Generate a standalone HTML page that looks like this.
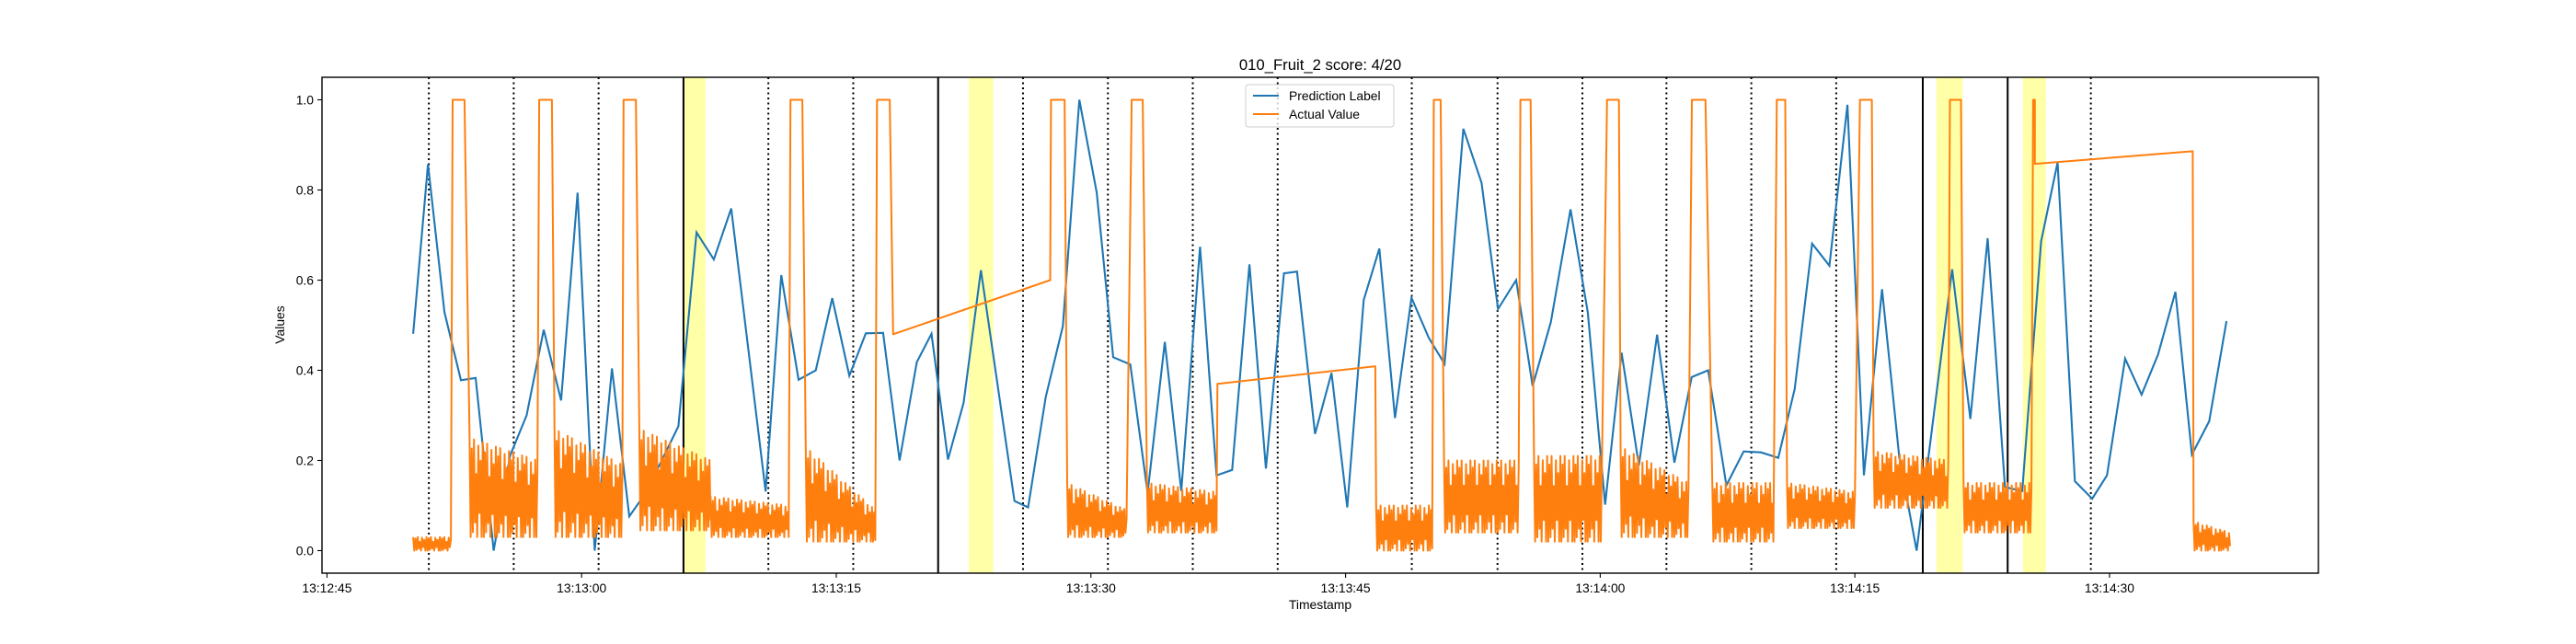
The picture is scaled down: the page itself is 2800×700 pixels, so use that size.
<!DOCTYPE html>
<html><head><meta charset="utf-8"><style>
html,body{margin:0;padding:0;background:#fff;}
svg{display:block;font-family:"Liberation Sans","DejaVu Sans",sans-serif;}
</style></head><body>
<svg id="chart" width="2800" height="700" xmlns="http://www.w3.org/2000/svg">
<rect x="0" y="0" width="2800" height="700" fill="#fff"/>
<g id="spans"></g>
<g id="vlines"></g>
<g id="series"></g>
<rect x="350" y="84" width="2170" height="539" fill="none" stroke="#000" stroke-width="1.4"/>
<g id="axes"></g>
<text x="1435" y="76" font-size="16.7" text-anchor="middle">010_Fruit_2 score: 4/20</text>
<text x="1435" y="662" font-size="13.9" text-anchor="middle">Timestamp</text>
<text transform="translate(309,353) rotate(-90)" font-size="13.9" text-anchor="middle">Values</text>
<g>
<rect x="1354" y="92" width="161" height="46" rx="3" fill="#fff" fill-opacity="0.8" stroke="#ccc" stroke-width="1"/>
<line x1="1362" y1="104" x2="1390" y2="104" stroke="#1f77b4" stroke-width="2.1"/>
<text x="1401" y="109" font-size="13.9">Prediction Label</text>
<line x1="1362" y1="124" x2="1390" y2="124" stroke="#ff7f0e" stroke-width="2.1"/>
<text x="1401" y="129" font-size="13.9">Actual Value</text>
</g>
</svg>
<script>
// seconds since 13:12:45
const xTickSeconds = [0, 15, 30, 45, 60, 75, 90, 105];
const xTickLabels = ["13:12:45","13:13:00","13:13:15","13:13:30","13:13:45","13:14:00","13:14:15","13:14:30"];
const yTickValues = [0.0, 0.2, 0.4, 0.6, 0.8, 1.0];
const yTickLabels = ["0.0","0.2","0.4","0.6","0.8","1.0"];
const dottedLineTimes = [6.0,11.0,16.0,26.0,31.0,41.0,46.0,51.0,56.0,63.9,68.95,73.95,78.9,83.9,88.9,103.9];
const solidLineTimes = [21.0,36.0,94.0,99.0];
const spanStarts = [21.0,37.8,94.8,99.9];
const spanEnds = [22.3,39.25,96.35,101.25];
const predTimes = [5.08,5.95,6.92,7.89,8.76,9.82,10.79,11.76,12.77,13.79,14.76,15.77,16.79,17.81,18.77,19.74,20.7,21.77,22.79,23.81,25.84,26.76,27.78,28.79,29.76,30.77,31.74,32.76,33.73,34.74,35.61,36.58,37.5,38.52,40.5,41.3,42.34,43.35,44.32,45.34,46.31,47.32,48.34,49.35,50.32,51.43,52.4,53.32,54.34,55.31,56.37,57.14,58.2,59.17,60.1,61.07,61.99,62.91,63.88,64.9,65.83,66.94,68.01,68.98,70.05,71.02,72.09,73.25,74.27,75.29,76.26,77.28,78.35,79.37,80.39,81.36,82.43,83.45,84.47,85.49,86.46,87.48,88.5,89.56,90.53,91.6,92.62,93.64,95.73,96.8,97.82,98.84,99.86,100.97,101.94,102.96,103.98,104.85,105.92,106.89,107.86,108.88,109.85,110.87,111.89];
const predValues = [0.481,0.857,0.529,0.378,0.383,0.0,0.211,0.30,0.49,0.333,0.794,0.0,0.404,0.076,0.128,0.202,0.276,0.706,0.646,0.759,0.131,0.611,0.379,0.40,0.56,0.388,0.482,0.483,0.20,0.418,0.481,0.202,0.328,0.622,0.11,0.096,0.341,0.498,1.0,0.794,0.429,0.413,0.128,0.463,0.132,0.674,0.167,0.179,0.635,0.182,0.615,0.619,0.259,0.394,0.096,0.556,0.67,0.294,0.561,0.472,0.414,0.936,0.816,0.536,0.60,0.365,0.507,0.757,0.528,0.102,0.439,0.189,0.479,0.195,0.385,0.40,0.145,0.22,0.218,0.206,0.359,0.681,0.632,0.989,0.167,0.58,0.206,0.0,0.624,0.292,0.693,0.141,0.132,0.686,0.861,0.154,0.115,0.167,0.426,0.346,0.435,0.574,0.213,0.287,0.509];
// Actual value: noisy bands (start,end,hi at start,hi at end,lo)
const bandStart = [5.08,8.4,13.4,18.4,22.6,28.2,43.6,48.3,61.8,65.8,71.1,76.2,81.6,86.0,91.1,96.4,109.95];
const bandEnd   = [7.3,12.4,17.4,22.6,27.2,32.3,47.1,52.4,65.1,70.2,75.1,80.2,85.2,90.0,95.5,100.4,112.1];
const bandHiStart = [0.03,0.25,0.27,0.27,0.12,0.23,0.15,0.15,0.10,0.20,0.21,0.23,0.15,0.15,0.22,0.15,0.065];
const bandHiEnd   = [0.03,0.20,0.19,0.20,0.10,0.09,0.09,0.13,0.10,0.20,0.21,0.15,0.15,0.13,0.20,0.15,0.04];
const bandLo = [0.0,0.03,0.03,0.045,0.03,0.02,0.03,0.04,0.0,0.04,0.02,0.03,0.02,0.05,0.095,0.04,0.0];
// pulses at value 1.0
const pulseStart = [7.4,12.5,17.47,27.3,32.4,42.65,47.4,65.2,70.3,75.4,80.4,85.4,90.3,95.6,100.5];
const pulseEnd   = [8.1,13.25,18.2,28.0,33.15,43.45,48.05,65.6,70.9,76.1,81.2,85.9,91.0,96.25,100.6];
// linear ramps (gaps)
const rampT0 = [33.35,52.45,100.6];
const rampV0 = [0.48,0.37,0.858];
const rampT1 = [42.6,61.75,109.9];
const rampV1 = [0.60,0.409,0.886];

const X = t => 355.4 + t*18.453;
const Y = v => 598.5 - v*490;
const NS = "http://www.w3.org/2000/svg";
function mk(tag, parent){ const e=document.createElementNS(NS,tag); parent.appendChild(e); return e; }

const spans=document.getElementById('spans');
for(let i=0;i<spanStarts.length;i++){
  const r=mk('rect',spans);
  
  
  r.setAttribute('x',X(spanStarts[i])); r.setAttribute('y',84);
  r.setAttribute('width',X(spanEnds[i])-X(spanStarts[i])); r.setAttribute('height',539);
  r.setAttribute('fill','#ffffa8');
}
const vl=document.getElementById('vlines');
dottedLineTimes.forEach(t=>{
  const l=mk('line',vl);
  
  
  l.setAttribute('x1',X(t)); l.setAttribute('x2',X(t)); l.setAttribute('y1',84); l.setAttribute('y2',623);
  l.setAttribute('stroke','#000'); l.setAttribute('stroke-width','2'); l.setAttribute('stroke-dasharray','2,3.5');
});
solidLineTimes.forEach(t=>{
  const l=mk('line',vl);
  
  
  l.setAttribute('x1',X(t)); l.setAttribute('x2',X(t)); l.setAttribute('y1',84); l.setAttribute('y2',623);
  l.setAttribute('stroke','#000'); l.setAttribute('stroke-width','2');
});

// rendering style for noisy bands: fixed cycle of fractions of band height
const noiseCycle=[1,0,0.9,0.05,1,0.15,0.65,0,0.95,0.25,0.8,0];
const pieces=[];
for(let i=0;i<bandStart.length;i++) pieces.push({s:bandStart[i],k:'b',i});
for(let i=0;i<pulseStart.length;i++) pieces.push({s:pulseStart[i],k:'p',i});
for(let i=0;i<rampT0.length;i++) pieces.push({s:rampT0[i],k:'r',i});
pieces.sort((a,b)=>a.s-b.s);
let pts=[];
pieces.forEach(p=>{
  if(p.k==='b'){
    const s=bandStart[p.i], e=bandEnd[p.i], dt=0.065; let n=Math.max(2,Math.round((e-s)/dt));
    for(let j=0;j<=n;j++){
      const t=s+(e-s)*j/n; const f=j/n;
      const hi=bandHiStart[p.i]+(bandHiEnd[p.i]-bandHiStart[p.i])*f;
      const lo=bandLo[p.i];
      const c=noiseCycle[j%noiseCycle.length];
      pts.push([X(t),Y(lo+(hi-lo)*c)]);
    }
  } else if(p.k==='p'){
    pts.push([X(pulseStart[p.i]),Y(1.0)]); pts.push([X(pulseEnd[p.i]),Y(1.0)]);
  } else {
    pts.push([X(rampT0[p.i]),Y(rampV0[p.i])]); pts.push([X(rampT1[p.i]),Y(rampV1[p.i])]);
  }
});
const ser=document.getElementById('series');
const pred=mk('polyline',ser);


pred.setAttribute('points',predTimes.map((t,i)=>X(t).toFixed(1)+','+Y(predValues[i]).toFixed(1)).join(' '));
pred.setAttribute('fill','none'); pred.setAttribute('stroke','#1f77b4'); pred.setAttribute('stroke-width','2.1');
const act=mk('polyline',ser);


act.setAttribute('points',pts.map(p=>p[0].toFixed(1)+','+p[1].toFixed(1)).join(' '));
act.setAttribute('fill','none'); act.setAttribute('stroke','#ff7f0e'); act.setAttribute('stroke-width','2'); act.setAttribute('stroke-linejoin','round');

const ax=document.getElementById('axes');
xTickSeconds.forEach((t,i)=>{
  const l=mk('line',ax);
  
  
  l.setAttribute('x1',X(t)); l.setAttribute('x2',X(t)); l.setAttribute('y1',623); l.setAttribute('y2',628);
  l.setAttribute('stroke','#000'); l.setAttribute('stroke-width','1.1');
  const tx=mk('text',ax);
  
  
  tx.setAttribute('x',X(t)); tx.setAttribute('y',644); tx.setAttribute('font-size','13.9'); tx.setAttribute('text-anchor','middle');
  tx.textContent=xTickLabels[i];
});
yTickValues.forEach((v,i)=>{
  const l=mk('line',ax);
  
  
  l.setAttribute('x1',345); l.setAttribute('x2',350); l.setAttribute('y1',Y(v)); l.setAttribute('y2',Y(v));
  l.setAttribute('stroke','#000'); l.setAttribute('stroke-width','1.1');
  const tx=mk('text',ax);
  
  
  tx.setAttribute('x',341); tx.setAttribute('y',Y(v)+5); tx.setAttribute('font-size','13.9'); tx.setAttribute('text-anchor','end');
  tx.textContent=yTickLabels[i];
});
</script>
</body></html>
